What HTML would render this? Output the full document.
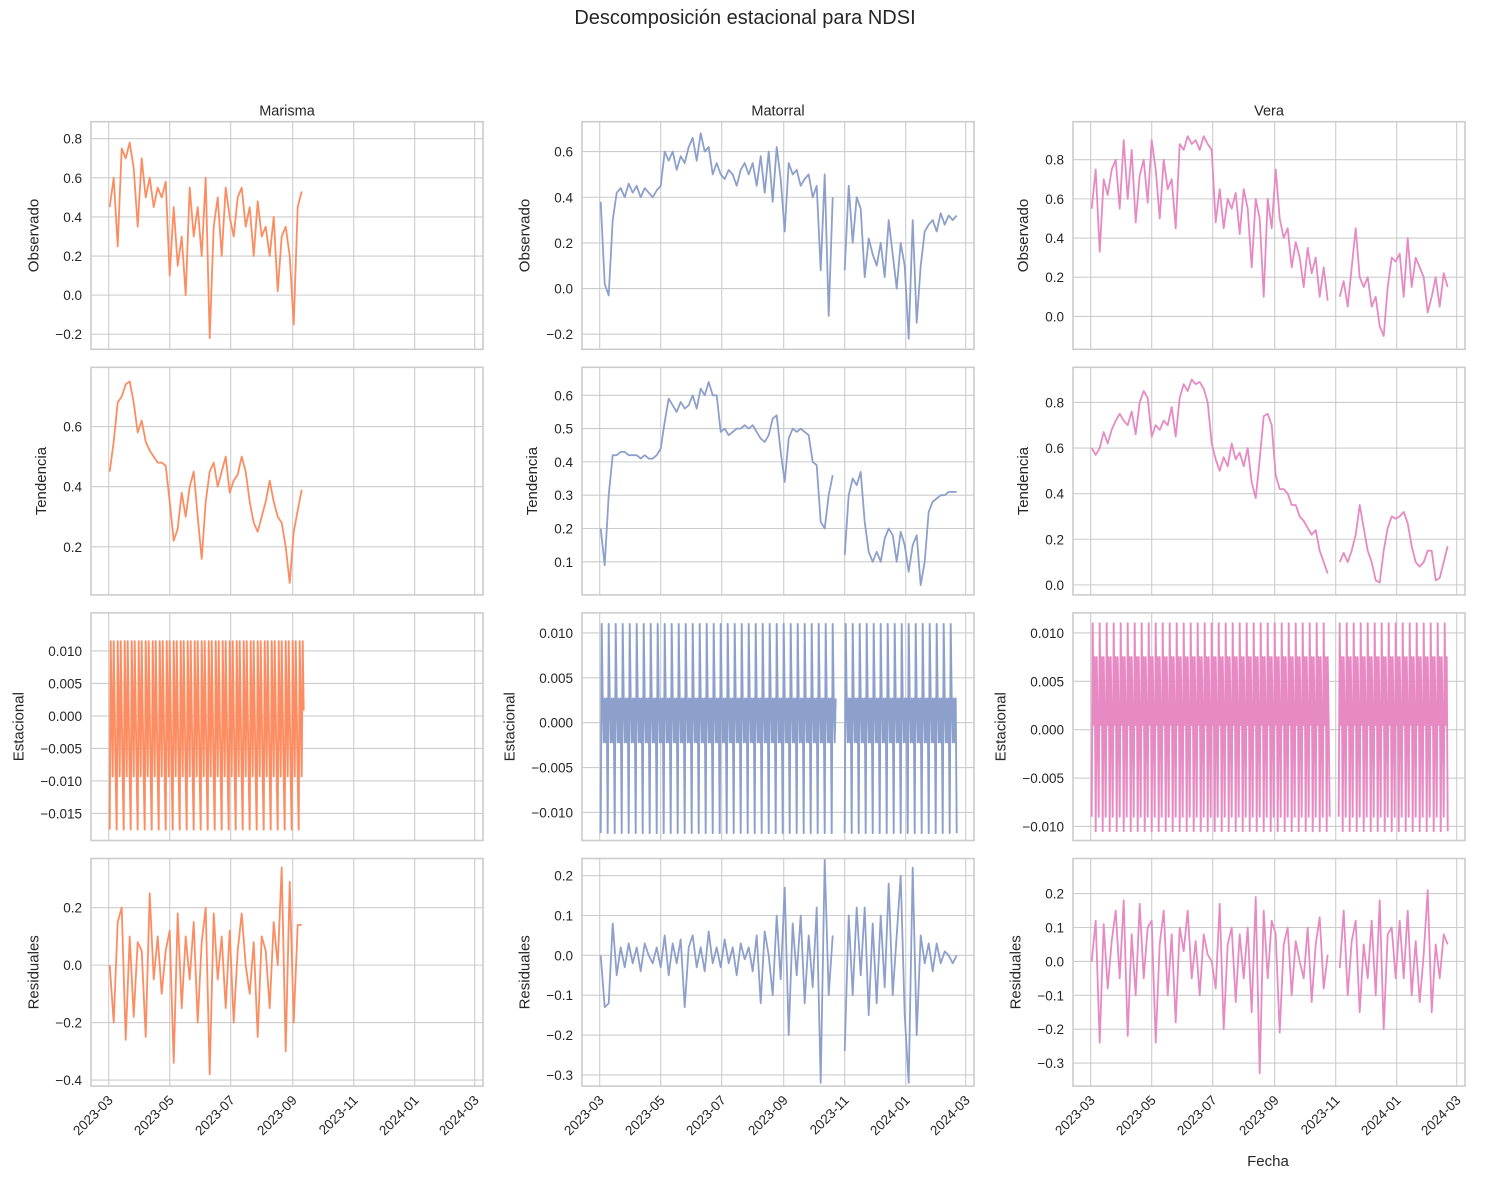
<!DOCTYPE html>
<html><head><meta charset="utf-8">
<style>
body{margin:0;background:#fff;}
svg{display:block;font-family:"Liberation Sans","DejaVu Sans",sans-serif;}
</style></head>
<body>
<svg id="fig" width="1491" height="1178" viewBox="0 0 1491 1178" xmlns="http://www.w3.org/2000/svg">
<rect width="1491" height="1178" fill="#fff"/>
<text x="745" y="24" font-size="20" text-anchor="middle" fill="#262626">Descomposición estacional para NDSI</text>
<text x="1268" y="1166" font-size="15" text-anchor="middle" fill="#262626">Fecha</text>
</svg>
<script>
// ---- data (step 4 days from 2023-03-02; null = gap) ----
const xTickLabels = ["2023-03","2023-05","2023-07","2023-09","2023-11","2024-01","2024-03"];
const xTickDays = [0,61,122,184,245,306,366]; // days since 2023-03-01
const columnTitles = ["Marisma","Matorral","Vera"];
const rowTitles = ["Observado","Tendencia","Estacional","Residuales"];

const marismaObs = [0.45,0.6,0.25,0.75,0.7,0.78,0.65,0.35,0.7,0.5,0.6,0.45,0.55,0.5,0.58,0.1,0.45,0.15,0.3,0.0,0.55,0.3,0.45,0.2,0.6,-0.22,0.35,0.5,0.2,0.55,0.4,0.3,0.5,0.55,0.35,0.45,0.2,0.48,0.3,0.35,0.2,0.4,0.02,0.3,0.35,0.2,-0.15,0.45,0.53];
const marismaTrend = [0.45,0.55,0.68,0.70,0.74,0.75,0.68,0.58,0.62,0.55,0.52,0.50,0.48,0.48,0.47,0.35,0.22,0.26,0.38,0.30,0.40,0.45,0.30,0.16,0.35,0.45,0.48,0.40,0.45,0.50,0.38,0.42,0.44,0.50,0.45,0.35,0.28,0.25,0.30,0.35,0.42,0.35,0.30,0.28,0.20,0.08,0.25,0.32,0.39];
const marismaResid = [0.0,-0.2,0.15,0.2,-0.26,0.1,-0.18,0.08,0.05,-0.25,0.25,-0.05,0.1,-0.1,0.05,0.12,-0.34,0.18,-0.15,0.1,-0.05,0.15,-0.2,0.08,0.2,-0.38,0.18,-0.05,0.1,-0.15,0.12,-0.2,0.05,0.18,0.0,-0.1,0.08,-0.25,0.1,0.05,-0.15,0.15,0.0,0.34,-0.3,0.29,-0.2,0.14,0.14];
const marismaSeasonPattern = [-0.0175,0.0115,0.0008,-0.0093,0.0115,0.0008,-0.0093];

const matorralObs = [0.38,0.02,-0.03,0.30,0.42,0.44,0.40,0.46, 0.42,0.45,0.40,0.44,0.42,0.40,0.43, 0.45,0.60,0.56,0.60,0.52,0.58,0.55,0.62, 0.66,0.56,0.68,0.60,0.62,0.50,0.55, 0.50,0.48,0.52,0.50,0.45,0.52,0.55,0.50, 0.55,0.45,0.58,0.42,0.60,0.38,0.62,0.48, 0.25,0.55,0.50,0.52,0.45,0.48,0.50, 0.40,0.45,0.08,0.50,-0.12,0.40, null,null, 0.08,0.45,0.20,0.40,0.35,0.05,0.22,0.15, 0.10,0.20,0.05,0.30,0.15,0.00,0.20,0.10, -0.22,0.30,-0.15,0.10,0.25,0.28,0.30, 0.25,0.33,0.28,0.32,0.30,0.32];
const matorralTrend = [0.20,0.09,0.30,0.42,0.42,0.43,0.43,0.42, 0.42,0.42,0.41,0.42,0.41,0.41,0.42, 0.44,0.52,0.59,0.57,0.55,0.58,0.56,0.57, 0.60,0.56,0.62,0.60,0.64,0.60,0.60, 0.49,0.50,0.48,0.49,0.50,0.50,0.51,0.50, 0.51,0.49,0.47,0.46,0.48,0.53,0.54,0.43, 0.34,0.47,0.50,0.49,0.50,0.49,0.48, 0.40,0.39,0.22,0.20,0.30,0.36, null,null, 0.12,0.30,0.35,0.33,0.37,0.22,0.13,0.10, 0.13,0.10,0.17,0.20,0.18,0.10,0.19,0.15, 0.07,0.15,0.18,0.03,0.10,0.25,0.28, 0.29,0.30,0.30,0.31,0.31,0.31];
const matorralResid = [0.0,-0.13,-0.12,0.08,-0.05,0.02,-0.03,0.03, -0.02,0.02,-0.04,0.03,0.0,-0.02,0.02, -0.03,0.05,-0.05,0.03,-0.02,0.04,-0.13,0.02, 0.05,-0.03,0.02,-0.04,0.06,-0.02,0.02, -0.03,0.04,-0.02,0.02,-0.05,0.03,-0.01,0.02, -0.04,0.05,-0.12,0.06,0.0,-0.10,0.10,-0.06, 0.17,-0.20,0.08,-0.05,0.10,-0.12,0.05, -0.08,0.12,-0.32,0.24,-0.10,0.05, null,null, -0.24,0.10,-0.10,0.12,-0.05,0.12,-0.15,0.08, -0.12,0.10,-0.08,0.18,-0.10,0.05,0.20,-0.15, -0.32,0.22,-0.20,0.05,-0.02,0.03,-0.04, 0.03,-0.02,0.01,0.0,-0.02,0.0];
const matorralSeasonPattern = [-0.0123,0.011,0.0027,-0.0022,0.0027,-0.0022,0.0027];

const veraObs = [0.55,0.75,0.33,0.70,0.62,0.75,0.80,0.55, 0.90,0.60,0.85,0.48,0.72,0.80,0.58, 0.90,0.75,0.50,0.80,0.65,0.70,0.45,0.88, 0.85,0.92,0.88,0.90,0.85,0.92,0.88, 0.85,0.48,0.65,0.45,0.60,0.55,0.63,0.42, 0.65,0.55,0.25,0.60,0.50,0.10,0.60,0.45, 0.75,0.50,0.40,0.45,0.25,0.38,0.30, 0.15,0.35,0.22,0.30,0.10,0.25,0.08, null,null, 0.10,0.18,0.05,0.25,0.45,0.20,0.15, 0.20,0.05,0.10,-0.05,-0.10,0.15,0.30,0.28, 0.32,0.10,0.40,0.15,0.30,0.25,0.20, 0.02,0.10,0.20,0.05,0.22,0.15];
const veraTrend = [0.60,0.57,0.60,0.67,0.62,0.68,0.72,0.75, 0.72,0.70,0.76,0.66,0.80,0.85,0.82, 0.65,0.70,0.68,0.72,0.70,0.78,0.65,0.82, 0.88,0.85,0.90,0.88,0.89,0.86,0.80, 0.62,0.55,0.50,0.56,0.52,0.62,0.55,0.58, 0.52,0.60,0.45,0.38,0.55,0.74,0.75,0.70, 0.48,0.42,0.42,0.40,0.35,0.35,0.30, 0.28,0.25,0.22,0.24,0.15,0.10,0.05, null,null, 0.10,0.14,0.10,0.15,0.22,0.35,0.25, 0.15,0.10,0.02,0.01,0.15,0.25,0.30,0.29, 0.30,0.32,0.27,0.17,0.10,0.08,0.10, 0.15,0.15,0.02,0.03,0.10,0.17];
const veraResid = [0.0,0.12,-0.24,0.11,-0.08,0.06,0.15,-0.05, 0.18,-0.22,0.08,-0.10,0.17,-0.05,0.10, 0.12,-0.24,0.05,0.15,-0.10,0.08,-0.18,0.10, 0.03,0.15,-0.05,0.06,-0.10,0.08,0.02, 0.0,-0.08,0.17,-0.20,0.05,0.10,-0.12,0.08, -0.05,0.10,-0.15,0.19,-0.33,0.15,-0.05,0.12, 0.08,-0.21,0.05,0.10,-0.10,0.06,0.00, -0.05,0.10,-0.12,0.05,0.13,-0.08,0.02, null,null, -0.02,0.15,-0.10,0.06,0.12,-0.15,0.05, -0.05,0.12,-0.10,0.18,-0.20,0.08,0.10,-0.05, 0.12,-0.05,0.15,-0.10,0.06,-0.12,0.02, 0.21,-0.15,0.05,-0.05,0.08,0.05];
const veraSeasonPattern = [-0.009,0.011,0.0005,0.0075,-0.0105,0.0075,0.0005];

// seasonal daily spans [startDay,endDay] (days since 2023-03-01)
const marismaSpans = [[1,195]];
const matorralSpans = [[1,236],[245,357]];
const veraSpans = [[1,239],[248,357]];

const yTicksAll = [
 [[-0.2,0,0.2,0.4,0.6,0.8],[0.2,0.4,0.6],[-0.015,-0.01,-0.005,0,0.005,0.01],[-0.4,-0.2,0,0.2]],
 [[-0.2,0,0.2,0.4,0.6],[0.1,0.2,0.3,0.4,0.5,0.6],[-0.01,-0.005,0,0.005,0.01],[-0.3,-0.2,-0.1,0,0.1,0.2]],
 [[0,0.2,0.4,0.6,0.8],[0,0.2,0.4,0.6,0.8],[-0.01,-0.005,0,0.005,0.01],[-0.3,-0.2,-0.1,0,0.1,0.2]]
];
const yLims = [
 [[-0.277,0.887],[0.04,0.797],[-0.01917,0.01586],[-0.421,0.371]],
 [[-0.266,0.731],[0.0006,0.684],[-0.01313,0.01223],[-0.328,0.243]],
 [[-0.168,0.994],[-0.044,0.954],[-0.01145,0.01207],[-0.368,0.3036]]
];
const yDec = [1,1,3,1];

// ---- layout ----
const NS="http://www.w3.org/2000/svg";
const svg=document.getElementById('fig');
const colors=["#fc8d62","#8da0cb","#e78ac3"];
const colLeft=[91,582,1073], W=392;
const rowTop=[121.7,367.3,612.9,858.5], H=227.6;
const day0X=17.7;
function mk(tag,attrs,parent){const e=document.createElementNS(NS,tag);for(const k in attrs)e.setAttribute(k,attrs[k]);(parent||svg).appendChild(e);return e;}
function fmt(v,d){let s=Math.abs(v).toFixed(d);return (v<-1e-12?"\u2212":"")+s;}

const seriesData=[
 [marismaObs,marismaTrend,marismaSeasonPattern,marismaResid,marismaSpans],
 [matorralObs,matorralTrend,matorralSeasonPattern,matorralResid,matorralSpans],
 [veraObs,veraTrend,veraSeasonPattern,veraResid,veraSpans]
];
const colNames=["marisma","matorral","vera"];
const rowNames=["observed","trend","seasonal","residual"];

for(let c=0;c<3;c++){
 const L=colLeft[c];
 const xS=d=>L+day0X+d;
 const t=mk('text',{x:L+W/2,y:rowTop[0]-6,'font-size':14.5,'text-anchor':'middle',fill:'#262626'});
 t.textContent=columnTitles[c];
 
 
 for(let r=0;r<4;r++){
  const T=rowTop[r];
  const [lo,hi]=yLims[c][r];
  const yS=v=>T+H-(v-lo)/(hi-lo)*H;
  const g=mk('g',{});
  
  
  xTickDays.forEach(d=>{const ln=mk('line',{x1:xS(d),x2:xS(d),y1:T,y2:T+H,stroke:'#cccccc','stroke-width':1.1},g);
   });
  const ticks=yTicksAll[c][r];
  let maxLen=0;
  ticks.forEach(v=>{const y=yS(v);
   const ln=mk('line',{x1:L,x2:L+W,y1:y,y2:y,stroke:'#cccccc','stroke-width':1.1},g);
   
   const s=fmt(v,yDec[r]);maxLen=Math.max(maxLen,s.length);
   const tx=mk('text',{x:L-9,y:y+5,'font-size':13.5,'text-anchor':'end',fill:'#262626'},g);
   tx.textContent=s;
   });
  const lx=L-9-maxLen*7.6-13;
  const yl=mk('text',{x:lx,y:T+H/2,'font-size':15,'text-anchor':'middle',fill:'#262626',transform:`rotate(-90 ${lx} ${T+H/2})`},g);
  yl.textContent=rowTitles[r];
  
  const segs=[];
  if(r===2){
   const pat=seriesData[c][2];
   seriesData[c][4].forEach(([a,b])=>{let pts=[];for(let d=a;d<=b;d++){pts.push([xS(d),yS(pat[(d-a)%7])]);}segs.push(pts);});
  } else {
   const arr=seriesData[c][r===3?3:r];
   let cur=[];
   arr.forEach((v,i)=>{if(v===null){if(cur.length)segs.push(cur);cur=[];}else cur.push([xS(1+i*4),yS(v)]);});
   if(cur.length)segs.push(cur);
  }
  segs.forEach(pts=>{
   const p=mk('polyline',{points:pts.map(q=>q[0].toFixed(1)+','+q[1].toFixed(1)).join(' '),fill:'none',stroke:colors[c],'stroke-width':r===2?1.9:1.8,'stroke-linejoin':'round'},g);
   
   
  });
  const fr=mk('rect',{x:L,y:T,width:W,height:H,fill:'none',stroke:'#cccccc','stroke-width':1.6},g);
  
  if(r===3){
   xTickDays.forEach((d,i)=>{const x=xS(d);
    const tx=mk('text',{x:x+5,y:T+H+15,'font-size':13.5,'text-anchor':'end',fill:'#262626',transform:`rotate(-45 ${x+5} ${T+H+15})`},g);
    tx.textContent=xTickLabels[i];
    });
  }
 }
}
</script>
</body></html>
